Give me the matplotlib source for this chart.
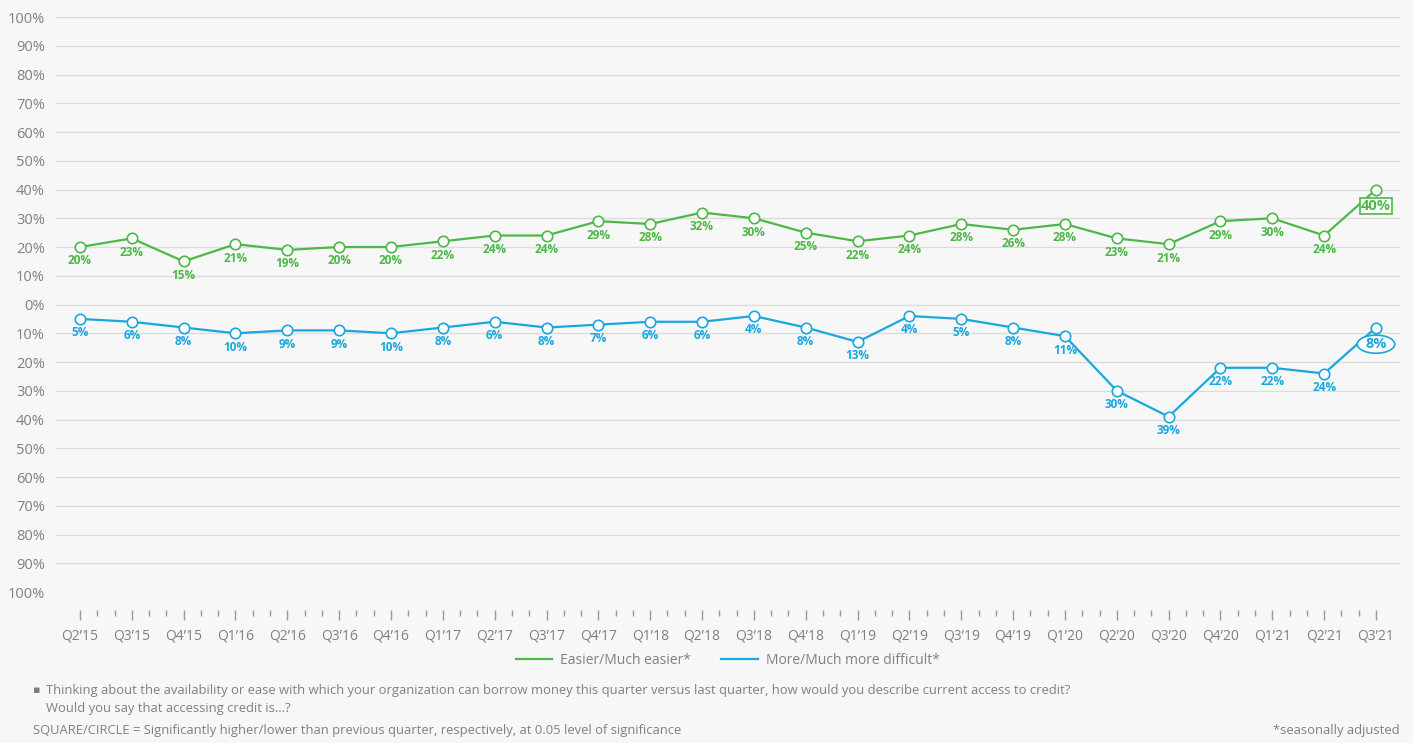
import numpy as np
import matplotlib.pyplot as plt
import matplotlib.transforms as mtransforms
from matplotlib.patches import Ellipse
from matplotlib.lines import Line2D

plt.rcParams['font.family'] = ['Open Sans', 'DejaVu Sans']

quarters = ["Q2'15", "Q3'15", "Q4'15", "Q1'16", "Q2'16", "Q3'16", "Q4'16", "Q1'17", "Q2'17",
            "Q3'17", "Q4'17", "Q1'18", "Q2'18", "Q3'18", "Q4'18", "Q1'19", "Q2'19", "Q3'19",
            "Q4'19", "Q1'20", "Q2'20", "Q3'20", "Q4'20", "Q1'21", "Q2'21", "Q3'21"]
easier = [20, 23, 15, 21, 19, 20, 20, 22, 24, 24, 29, 28, 32, 30, 25, 22, 24, 28, 26, 28, 23, 21, 29, 30, 24, 40]
difficult = [5, 6, 8, 10, 9, 9, 10, 8, 6, 8, 7, 6, 6, 4, 8, 13, 4, 5, 8, 11, 30, 39, 22, 22, 24, 8]
yticks = np.arange(-100, 101, 10)

green = '#4db848'
blue = '#1aa7df'
grey = '#808080'
bg = '#f7f7f7'

fig = plt.figure(figsize=(14.13, 7.43), dpi=100, facecolor=bg)
ax = fig.add_axes([0.0396, 0.2032, 0.9512, 0.7739], facecolor=bg)

x = np.arange(len(quarters))
neg = [-v for v in difficult]

ax.plot(x, easier, color=green, lw=1.6, marker='o', ms=7.5, mfc='white', mec=green, mew=1.2, zorder=3)
ax.plot(x, neg, color=blue, lw=1.6, marker='o', ms=7.5, mfc='white', mec=blue, mew=1.2, zorder=3)

n = len(x)
for i in range(n):
    last = i == n - 1
    fs = 10.5 if last else 8.5
    off = -12 if last else -10
    bb_g = dict(boxstyle='square,pad=0.08', fc='white', ec=green, lw=1.2) if last else None
    ax.annotate(f'{easier[i]}%', (x[i], easier[i]), xytext=(0, off), textcoords='offset points',
                ha='center', va='center', fontsize=fs, fontweight='bold', color=green,
                bbox=bb_g, zorder=4)
    ax.annotate(f'{difficult[i]}%', (x[i], neg[i]), xytext=(0, off), textcoords='offset points',
                ha='center', va='center', fontsize=fs, fontweight='bold', color=blue, zorder=5)

# ellipse around the last "difficult" label (significance marker)
trans = mtransforms.Affine2D().scale(fig.dpi / 72) + \
    mtransforms.ScaledTranslation(x[-1], neg[-1], ax.transData)
ax.add_patch(Ellipse((0, -12), width=27, height=13, transform=trans, fc='white', ec=blue,
                     lw=1.2, zorder=4))

ax.set_ylim(-100, 100)
ax.set_xlim(-0.463, n - 1 + 0.463)
ax.set_yticks(yticks)
ax.set_yticklabels([f'{abs(v)}%' for v in yticks])
ax.grid(axis='y', color='#dcdcdc', lw=1)
ax.set_axisbelow(True)
for s in ax.spines.values():
    s.set_visible(False)
ax.spines['bottom'].set_position(('outward', 13))

ax.set_xticks(x)
ax.set_xticklabels([q.replace("'", "\u2019") for q in quarters])
ax.set_xticks([i + f for i in range(n - 1) for f in (1 / 3, 2 / 3)], minor=True)
ax.tick_params(axis='x', which='major', length=7, width=1, color='#999999', pad=6,
               labelsize=10, labelcolor=grey)
ax.tick_params(axis='x', which='minor', length=4, width=1, color='#999999')
ax.tick_params(axis='y', length=0, pad=8, labelsize=10.5, labelcolor=grey)

handles = [Line2D([], [], color=green, lw=1.6), Line2D([], [], color=blue, lw=1.6)]
fig.legend(handles, ['Easier/Much easier*', 'More/Much more difficult*'], loc='center',
           bbox_to_anchor=(0.515, 0.111), ncol=2, frameon=False, fontsize=10, labelcolor=grey,
           handlelength=2.6, columnspacing=2.2, handletextpad=0.6)

fig.text(0.0233, 0.07, '\u25aa', fontsize=8, color=grey, va='center')
fig.text(0.0326, 0.07, 'Thinking about the availability or ease with which your organization can borrow money '
         'this quarter versus last quarter, how would you describe current access to credit?',
         fontsize=9.4, color=grey, va='center')
fig.text(0.0326, 0.047, 'Would you say that accessing credit is\u2026?', fontsize=9.4, color=grey, va='center')
fig.text(0.0233, 0.017, 'SQUARE/CIRCLE = Significantly higher/lower than previous quarter, respectively, '
         'at 0.05 level of significance', fontsize=9.4, color=grey, va='center')
fig.text(0.9908, 0.017, '*seasonally adjusted', fontsize=9.4, color=grey, va='center', ha='right')

fig.savefig('out.png', dpi=100, facecolor=bg)
